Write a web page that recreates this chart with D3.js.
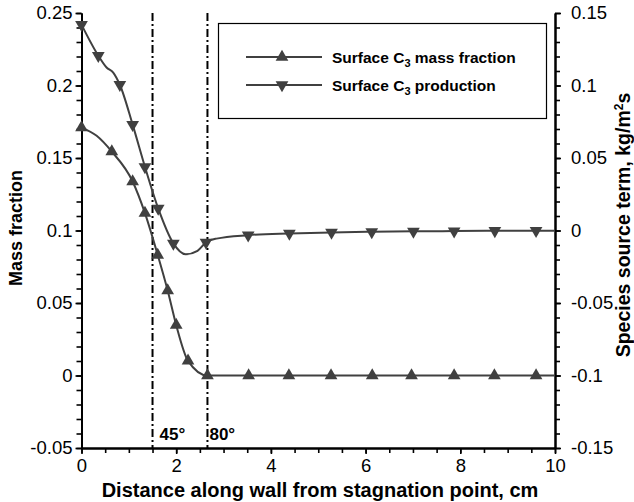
<!DOCTYPE html>
<html><head><meta charset="utf-8">
<script src="https://cdn.jsdelivr.net/npm/d3@7"></script>
<style>body{margin:0;background:#fff} svg{display:block} text{font-family:"Liberation Sans",Arial,Helvetica,sans-serif}</style>
</head><body><svg width="634" height="502"></svg>
<script>
// ---- data ----
const xTicks = [0, 2, 4, 6, 8, 10];
const leftTicks = [-0.05, 0, 0.05, 0.1, 0.15, 0.2, 0.25];
const rightTicks = [-0.15, -0.1, -0.05, 0, 0.05, 0.1, 0.15];
const leftTickLabels = ["-0.05", "0", "0.05", "0.1", "0.15", "0.2", "0.25"];
const rightTickLabels = ["-0.15", "-0.1", "-0.05", "0", "0.05", "0.1", "0.15"];

// Surface C3 mass fraction (left axis) - curve points
const massLineX = [0, 0.32, 0.64, 1.08, 1.34, 1.61, 1.82, 2.0, 2.25, 2.66, 3.53, 4.38, 5.27, 6.14, 6.97, 7.87, 8.72, 9.6, 10];
const massLineY = [0.171, 0.1653, 0.1544, 0.1338, 0.112, 0.0831, 0.0586, 0.0348, 0.0101, 0, 0, 0, 0, 0, 0, 0, 0, 0, 0];
// marker positions
const massMarkX = [0, 0.64, 1.08, 1.34, 1.61, 1.82, 2.0, 2.25, 2.66, 3.53, 4.38, 5.27, 6.14, 6.97, 7.87, 8.72, 9.6];
const massMarkY = [0.171, 0.1544, 0.1338, 0.112, 0.0831, 0.0586, 0.0348, 0.0101, 0, 0, 0, 0, 0, 0, 0, 0, 0];

// Surface C3 production (right axis, kg/m^2 s) - curve points
const prodLineX = [0, 0.355, 0.53, 0.67, 0.81, 1.08, 1.34, 1.62, 1.94, 2.2, 2.45, 2.63, 2.85, 3.52, 4.39, 5.28, 6.13, 7.01, 7.87, 8.73, 9.6, 10];
const prodLineY = [0.142, 0.1206, 0.1124, 0.1089, 0.1005, 0.073, 0.0439, 0.0152, -0.0089, -0.0164, -0.0140, -0.0082, -0.0056, -0.0032, -0.0020, -0.0013, -0.0009, -0.0006, -0.0004, -0.0002, -0.0001, -0.0001];
const prodMarkX = [0, 0.355, 0.81, 1.08, 1.34, 1.62, 1.94, 2.63, 3.52, 4.39, 5.28, 6.13, 7.01, 7.87, 8.73, 9.6];
const prodMarkY = [0.142, 0.1206, 0.1005, 0.073, 0.0439, 0.0152, -0.0089, -0.0082, -0.0032, -0.0020, -0.0013, -0.0009, -0.0006, -0.0004, -0.0002, -0.0001];

const refLineX = [1.5, 2.66];
const refLabels = ["45°", "80°"];
const legendLabels = [["Surface C", "3", " mass fraction"], ["Surface C", "3", " production"]];

// ---- drawing ----
const svg = d3.select("svg");
const L = 81.5, R = 555, T = 13, B = 448;
const x = d3.scaleLinear().domain([0, 10]).range([L, R]);
const yL = d3.scaleLinear().domain([-0.05, 0.25]).range([B, T]);
const yR = d3.scaleLinear().domain([-0.15, 0.15]).range([B, T]);
const curveCol = "#404040";

// minor ticks
const xMinor = d3.range(0, 10.001, 0.5);
const yMinor = d3.range(-0.05, 0.2501, 0.01).map(v => +v.toFixed(3));
const rMinor = d3.range(-0.15, 0.1501, 0.01).map(v => +v.toFixed(3));

function styleAxis(g) {
  g.select(".domain").attr("stroke", "#000").attr("stroke-width", 2);
  g.selectAll(".tick line").attr("stroke", "#000").attr("stroke-width", 1.6);
  g.selectAll(".tick text").attr("fill", "#000").style("font-size", "18.5px").style("font-family", '"Liberation Sans",Arial,sans-serif');
}

// x axis
svg.append("g").attr("transform", `translate(0,${B})`)
  .call(d3.axisBottom(x).tickValues(xMinor).tickSize(5).tickSizeOuter(0).tickFormat(""))
  .call(styleAxis);
svg.append("g").attr("transform", `translate(0,${B})`)
  .call(d3.axisBottom(x).tickValues(xTicks).tickSize(6).tickSizeOuter(0).tickPadding(5).tickFormat(d3.format("d")))
  .call(styleAxis);

// left axis
svg.append("g").attr("transform", `translate(${L},0)`)
  .call(d3.axisLeft(yL).tickValues(yMinor).tickSize(5).tickSizeOuter(0).tickFormat(""))
  .call(styleAxis);
svg.append("g").attr("transform", `translate(${L},0)`)
  .call(d3.axisLeft(yL).tickValues(leftTicks).tickSize(6).tickSizeOuter(0).tickPadding(3).tickFormat((d, i) => leftTickLabels[i]))
  .call(styleAxis);

// right axis
svg.append("g").attr("transform", `translate(${R},0)`)
  .call(d3.axisRight(yR).tickValues(rMinor).tickSize(5).tickSizeOuter(0).tickFormat(""))
  .call(styleAxis);
svg.append("g").attr("transform", `translate(${R},0)`)
  .call(d3.axisRight(yR).tickValues(rightTicks).tickSize(6).tickSizeOuter(0).tickPadding(10).tickFormat((d, i) => rightTickLabels[i]))
  .call(styleAxis);

// reference dash-dot lines
const refLabelOffset = [7, 2];
svg.append("g").selectAll("line").data(refLineX).join("line")
  .attr("x1", d => x(d)).attr("x2", d => x(d)).attr("y1", T).attr("y2", B)
  .attr("stroke", "#000").attr("stroke-width", 2).attr("stroke-dasharray", "8,3,2,3");
svg.append("g").selectAll("text").data(refLineX).join("text")
  .attr("x", (d, i) => x(d) + refLabelOffset[i]).attr("y", 440)
  .style("font-size", "17px").style("font-weight", "bold").text((d, i) => refLabels[i]);

// curves
const lineL = d3.line().x((d, i) => x(massLineX[i])).y(d => yL(d)).curve(d3.curveMonotoneX);
const lineR = d3.line().x((d, i) => x(prodLineX[i])).y(d => yR(d)).curve(d3.curveMonotoneX);
svg.append("path").attr("d", lineL(massLineY)).attr("fill", "none").attr("stroke", curveCol).attr("stroke-width", 2);
svg.append("path").attr("d", lineR(prodLineY)).attr("fill", "none").attr("stroke", curveCol).attr("stroke-width", 2);

const tri = d3.symbol(d3.symbolTriangle, 70);
svg.append("g").selectAll("path").data(massMarkY).join("path")
  .attr("d", tri).attr("fill", curveCol)
  .attr("transform", (d, i) => `translate(${x(massMarkX[i])},${yL(d)})`);
svg.append("g").selectAll("path").data(prodMarkY).join("path")
  .attr("d", tri).attr("fill", curveCol)
  .attr("transform", (d, i) => `translate(${x(prodMarkX[i])},${yR(d)}) rotate(180)`);

// legend
const lg = svg.append("g");
lg.append("rect").attr("x", 218.5).attr("y", 23.5).attr("width", 328).attr("height", 95)
  .attr("fill", "#fff").attr("stroke", "#000").attr("stroke-width", 1.2);
const rowsY = [57, 85];
legendLabels.forEach((lab, i) => {
  const yy = rowsY[i];
  lg.append("line").attr("x1", 246).attr("x2", 322).attr("y1", yy).attr("y2", yy).attr("stroke", curveCol).attr("stroke-width", 2);
  lg.append("path").attr("d", tri).attr("fill", curveCol)
    .attr("transform", `translate(282,${yy}) rotate(${i === 0 ? 0 : 180})`);
  const t = lg.append("text").attr("x", 332).attr("y", yy + 6).style("font-size", "15.5px").style("font-weight", "bold");
  t.append("tspan").text(lab[0]);
  t.append("tspan").attr("dy", 4).style("font-size", "11px").text(lab[1]);
  t.append("tspan").attr("dy", -4).text(lab[2]);
});

// axis titles
svg.append("text").attr("x", 320).attr("y", 497).attr("text-anchor", "middle")
  .style("font-size", "20px").style("font-weight", "bold").text("Distance along wall from stagnation point, cm");
svg.append("text").attr("transform", `translate(22,228) rotate(-90)`).attr("text-anchor", "middle")
  .style("font-size", "18px").style("font-weight", "bold").text("Mass fraction");
const rt = svg.append("text").attr("transform", `translate(630,225) rotate(-90)`).attr("text-anchor", "middle")
  .style("font-size", "19.5px").style("font-weight", "bold");
rt.append("tspan").text("Species source term, kg/m");
rt.append("tspan").attr("dy", -7).style("font-size", "12px").text("2");
rt.append("tspan").attr("dy", 7).text("s");
</script></body></html>
